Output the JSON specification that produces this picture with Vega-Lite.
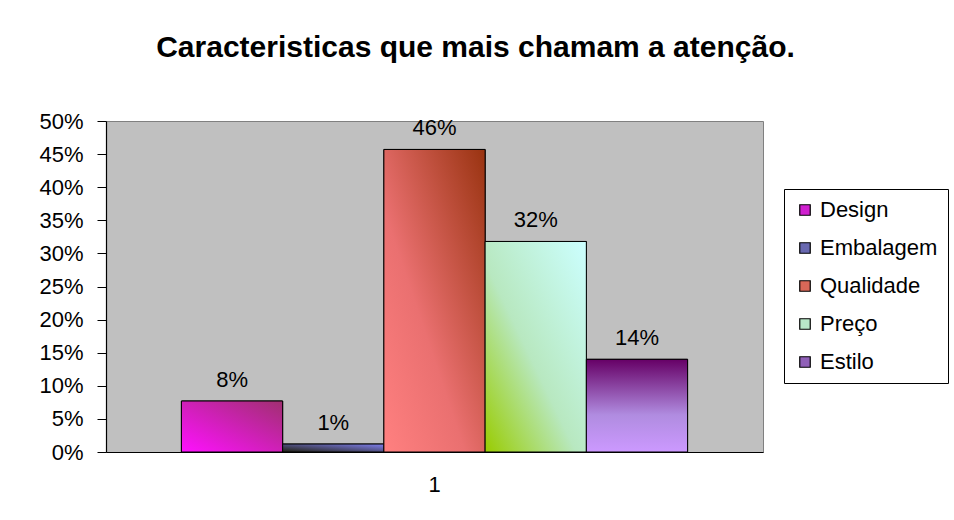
{
  "$schema": "https://vega.github.io/schema/vega-lite/v6.json",
  "width": 657,
  "height": 331,
  "autosize": {"type": "none"},
  "padding": {"left": 106, "top": 121, "right": 191, "bottom": 68},
  "background": "white",
  "title": {
    "text": "Caracteristicas que mais chamam a atenção.",
    "font": "Liberation Sans",
    "fontSize": 30,
    "fontWeight": "bold",
    "color": "black",
    "anchor": "middle",
    "dx": 41,
    "offset": 47
  },
  "data": {
    "values": [
      {"cat": "1", "caracteristica": "Design", "valor": 0.077},
      {"cat": "1", "caracteristica": "Embalagem", "valor": 0.012},
      {"cat": "1", "caracteristica": "Qualidade", "valor": 0.457},
      {"cat": "1", "caracteristica": "Preço", "valor": 0.318},
      {"cat": "1", "caracteristica": "Estilo", "valor": 0.14}
    ]
  },
  "encoding": {
    "x": {
      "field": "cat",
      "type": "nominal",
      "scale": {"paddingInner": 0, "paddingOuter": 0.149},
      "axis": {
        "title": null,
        "labelAngle": 0,
        "ticks": false,
        "labelPadding": 22,
        "domainColor": "black",
        "labelFont": "Liberation Sans",
        "labelFontSize": 22,
        "labelColor": "black"
      }
    },
    "xOffset": {
      "field": "caracteristica",
      "type": "nominal",
      "sort": null,
      "scale": {"domain": ["Design", "Embalagem", "Qualidade", "Preço", "Estilo"], "paddingInner": 0, "paddingOuter": 0}
    },
    "y": {
      "field": "valor",
      "type": "quantitative",
      "scale": {"domain": [0, 0.5], "nice": false},
      "axis": {
        "title": null,
        "values": [0, 0.05, 0.1, 0.15, 0.2, 0.25, 0.3, 0.35, 0.4, 0.45, 0.5],
        "format": ".0%",
        "grid": false,
        "domainColor": "black",
        "tickColor": "black",
        "tickSize": 9,
        "labelPadding": 14,
        "labelFont": "Liberation Sans",
        "labelFontSize": 22,
        "labelColor": "black"
      }
    }
  },
  "layer": [
    {
      "mark": {"type": "bar", "stroke": "black", "strokeWidth": 1},
      "encoding": {
        "color": {
          "field": "caracteristica",
          "type": "nominal",
          "scale": {
            "domain": ["Design", "Embalagem", "Qualidade", "Preço", "Estilo"],
            "range": ["#D020D0", "#6868B0", "#D86858", "#B8E8C8", "#9060B8"]
          },
          "legend": {
            "title": null,
            "orient": "none",
            "legendX": 678,
            "legendY": 68,
            "fillColor": "white",
            "strokeColor": "black",
            "padding": 10,
            "symbolType": "square",
            "symbolSize": 110,
            "symbolStrokeColor": "black",
            "symbolStrokeWidth": 1.2,
            "symbolOpacity": 1,
            "labelFont": "Liberation Sans",
            "labelFontSize": 22,
            "labelColor": "black",
            "labelOffset": 4,
            "rowPadding": 16
          }
        }
      }
    },
    {
      "transform": [{"filter": "datum.caracteristica === 'Design'"}],
      "mark": {"type": "bar", "stroke": "black", "strokeWidth": 1,
        "fill": {"gradient": "linear", "x1": 0, "y1": 1, "x2": 1, "y2": 0,
          "stops": [{"offset": 0, "color": "#FF10FF"}, {"offset": 1, "color": "#A03070"}]}}
    },
    {
      "transform": [{"filter": "datum.caracteristica === 'Embalagem'"}],
      "mark": {"type": "bar", "stroke": "black", "strokeWidth": 1,
        "fill": {"gradient": "linear", "x1": 0, "y1": 1, "x2": 1, "y2": 0,
          "stops": [{"offset": 0, "color": "#202010"}, {"offset": 1, "color": "#8080F0"}]}}
    },
    {
      "transform": [{"filter": "datum.caracteristica === 'Qualidade'"}],
      "mark": {"type": "bar", "stroke": "black", "strokeWidth": 1,
        "fill": {"gradient": "linear", "x1": 0, "y1": 1, "x2": 1, "y2": 0,
          "stops": [{"offset": 0, "color": "#FF8080"}, {"offset": 0.4, "color": "#EA7070"}, {"offset": 1, "color": "#993310"}]}}
    },
    {
      "transform": [{"filter": "datum.caracteristica === 'Preço'"}],
      "mark": {"type": "bar", "stroke": "black", "strokeWidth": 1,
        "fill": {"gradient": "linear", "x1": 0, "y1": 1, "x2": 1, "y2": 0,
          "stops": [{"offset": 0, "color": "#99CC00"}, {"offset": 0.45, "color": "#B8E8C0"}, {"offset": 1, "color": "#CCFFFF"}]}}
    },
    {
      "transform": [{"filter": "datum.caracteristica === 'Estilo'"}],
      "mark": {"type": "bar", "stroke": "black", "strokeWidth": 1,
        "fill": {"gradient": "linear", "x1": 0, "y1": 0, "x2": 0, "y2": 1,
          "stops": [{"offset": 0, "color": "#660066"}, {"offset": 0.6, "color": "#B08CE0"}, {"offset": 1, "color": "#CC99FF"}]}}
    },
    {
      "mark": {"type": "text", "baseline": "alphabetic", "dy": -14, "font": "Liberation Sans", "fontSize": 22, "color": "black"},
      "encoding": {
        "text": {"field": "valor", "type": "quantitative", "format": ".0%"}
      }
    }
  ],
  "config": {
    "view": {"fill": "#C0C0C0", "stroke": "#808080", "strokeWidth": 1},
    "axis": {"domainWidth": 1.2}
  }
}
